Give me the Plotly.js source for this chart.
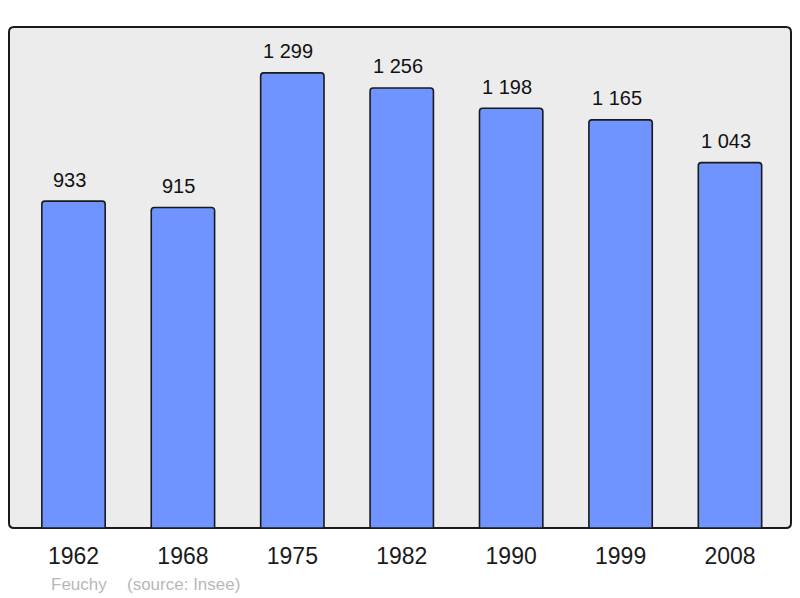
<!DOCTYPE html>
<html>
<head>
<meta charset="utf-8">
<script src="https://cdn.plot.ly/plotly-3.0.1.min.js"></script>
<style>html,body{margin:0;padding:0;background:#fff;}#chart{width:800px;height:598px;}</style>
</head>
<body>
<div id="chart"></div>
<script>
const years = ["1962", "1968", "1975", "1982", "1990", "1999", "2008"];
const population = [933, 915, 1299, 1256, 1198, 1165, 1043];
const commune = "Feuchy";
const source = "(source: Insee)";

function fmt(v) {
  return String(v).replace(/\B(?=(\d{3})+(?!\d))/g, " ");
}

const W = 800, H = 598;
const L = 9, R = 9, T = 27, B = 70;
const pw = W - L - R, ph = H - T - B;
const rad = 5;
const rx = rad / pw, ry = rad / ph;
const framePath =
  `M ${rx} 0 L ${1 - rx} 0 Q 1 0 1 ${ry} L 1 ${1 - ry} Q 1 1 ${1 - rx} 1 ` +
  `L ${rx} 1 Q 0 1 0 ${1 - ry} L 0 ${ry} Q 0 0 ${rx} 0 Z`;

const trace = {
  type: "bar",
  x: years,
  y: population,
  width: 0.579,
  marker: {
    color: "#7094ff",
    line: { color: "#1a1a1a", width: 1.6 },
    cornerradius: 3
  },
  hoverinfo: "none"
};

const labelAnn = years.map((yr, i) => ({
  x: i,
  y: population[i],
  xref: "x",
  yref: "y",
  text: fmt(population[i]),
  showarrow: false,
  yanchor: "bottom",
  xanchor: "center",
  yshift: 8.5,
  xshift: -4,
  font: { family: "Liberation Sans, Arial, sans-serif", size: 20, color: "#111" }
}));

const footer = [
  {
    text: commune, xref: "paper", yref: "paper",
    x: (49 - L) / pw, y: (T + ph - 584) / ph,
    xanchor: "left", yanchor: "middle", showarrow: false,
    font: { family: "Liberation Sans, Arial, sans-serif", size: 17, color: "#b8b8b8" }
  },
  {
    text: source, xref: "paper", yref: "paper",
    x: (125 - L) / pw, y: (T + ph - 584) / ph,
    xanchor: "left", yanchor: "middle", showarrow: false,
    font: { family: "Liberation Sans, Arial, sans-serif", size: 17, color: "#b8b8b8" }
  }
];

const layout = {
  width: W,
  height: H,
  margin: { l: L, r: R, t: T, b: B, pad: 0 },
  paper_bgcolor: "#ffffff",
  plot_bgcolor: "rgba(0,0,0,0)",
  showlegend: false,
  xaxis: {
    type: "category",
    range: [-0.5896, 6.5576],
    showgrid: false,
    zeroline: false,
    showline: false,
    ticks: "",
    ticklabelstandoff: 12,
    tickfont: { family: "Liberation Sans, Arial, sans-serif", size: 23, color: "#1a1a1a" },
    fixedrange: true
  },
  yaxis: {
    range: [0, 1430],
    showgrid: false,
    zeroline: false,
    showline: false,
    showticklabels: false,
    ticks: "",
    fixedrange: true
  },
  shapes: [
    {
      type: "path",
      xref: "paper",
      yref: "paper",
      path: framePath,
      fillcolor: "#ececec",
      line: { color: "#1a1a1a", width: 2 },
      layer: "below"
    }
  ],
  annotations: labelAnn.concat(footer)
};

Plotly.newPlot("chart", [trace], layout, { displayModeBar: false, staticPlot: true });
</script>
</body>
</html>
